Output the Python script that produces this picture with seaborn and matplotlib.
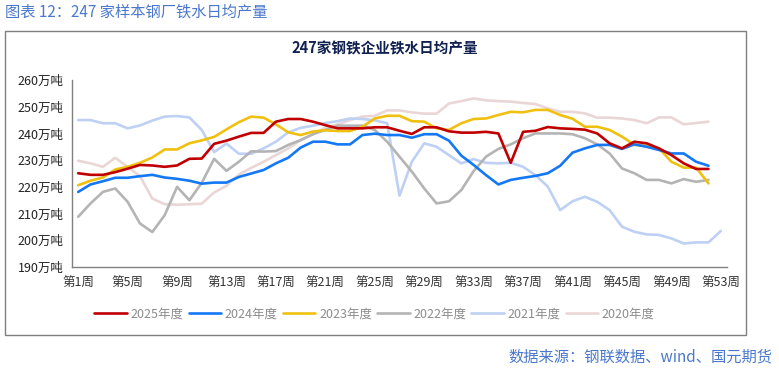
"""
247家钢铁企业铁水日均产量 —— 周度季节性折线图
"""
import matplotlib
import matplotlib.pyplot as plt
import numpy as np
import seaborn as sns
from matplotlib.patches import Rectangle
from matplotlib.ticker import FixedLocator, FuncFormatter

matplotlib.use("Agg")

# 数据（万吨），按周
y2025 = [225.1, 224.5, 224.5, 225.5, 226.8, 228.2, 228.0, 227.5, 228.0, 230.5,
         230.6, 236.1, 237.3, 238.8, 240.2, 240.2, 244.4, 245.4, 245.4, 244.4,
         243.1, 241.9, 241.9, 241.9, 242.3, 242.3, 241.0, 239.8, 242.3, 242.3,
         240.8, 240.3, 240.3, 240.6, 240.0, 229.0, 240.6, 241.0, 242.4, 241.9,
         241.7, 241.4, 240.0, 236.3, 234.4, 236.9, 236.3, 234.4, 231.9, 228.8,
         226.7, 226.7]
y2024 = [218.1, 220.9, 222.1, 223.4, 223.4, 224.0, 224.5, 223.5, 223.0, 222.3,
         221.2, 221.6, 221.6, 223.7, 225.0, 226.3, 228.8, 230.9, 234.7, 236.9,
         236.9, 235.9, 235.9, 239.4, 239.9, 239.4, 239.4, 238.4, 239.7, 239.7,
         237.3, 231.7, 228.2, 224.4, 220.9, 222.6, 223.4, 224.1, 225.1, 227.9,
         232.8, 234.4, 235.7, 235.7, 234.2, 235.9, 235.0, 233.8, 232.5, 232.5,
         229.4, 227.9]
y2023 = [220.6, 222.3, 223.5, 226.5, 227.5, 229.0, 231.0, 234.0, 234.0, 236.3,
         237.4, 238.7, 241.5, 244.2, 246.3, 245.9, 243.4, 240.4, 239.4, 240.7,
         241.2, 240.9, 240.9, 242.5, 245.6, 246.6, 246.6, 244.6, 244.4, 241.9,
         241.3, 243.8, 245.4, 245.6, 246.9, 248.1, 247.9, 248.8, 248.8, 246.9,
         245.5, 242.5, 242.5, 241.3, 238.8, 235.7, 235.4, 234.4, 229.4, 227.2,
         227.2, 221.3]
y2022 = [208.8, 213.8, 218.1, 219.4, 214.4, 206.3, 203.1, 209.4, 220.0, 215.0,
         221.5, 230.5, 226.0, 229.4, 233.3, 233.2, 233.4, 235.7, 237.5, 239.7,
         241.3, 242.9, 242.9, 242.9, 241.3, 236.9, 231.3, 225.7, 219.4, 213.8,
         214.6, 218.8, 225.9, 231.3, 234.2, 235.9, 238.2, 240.0, 240.0, 240.0,
         239.7, 238.2, 235.9, 232.5, 226.9, 225.1, 222.6, 222.6, 221.3, 222.9,
         221.9, 222.6]
y2021 = [245.0, 245.0, 243.8, 243.8, 241.9, 243.0, 244.8, 246.3, 246.5, 246.0,
         241.3, 233.0, 236.2, 232.4, 232.4, 234.4, 236.9, 240.4, 242.1, 242.9,
         243.9, 244.6, 245.6, 245.4, 244.9, 243.8, 216.7, 229.4, 236.3, 235.0,
         231.9, 228.8, 230.4, 229.0, 228.8, 229.0, 227.5, 224.4, 220.1, 211.3,
         214.6, 216.3, 214.4, 211.3, 205.1, 203.2, 202.2, 202.0, 200.7, 198.8,
         199.2, 199.2, 203.5]
y2020 = [229.8, 228.8, 227.5, 230.9, 227.5, 224.0, 215.6, 213.5, 213.3, 213.5,
         213.7, 217.9, 220.4, 224.6, 227.1, 229.4, 231.9, 234.4, 237.5, 239.7,
         242.2, 243.4, 245.0, 246.3, 246.6, 248.6, 248.6, 247.9, 247.4, 247.4,
         251.2, 252.1, 253.1, 252.4, 252.1, 251.9, 251.4, 251.0, 249.4, 248.1,
         248.1, 247.5, 245.9, 245.9, 245.6, 245.0, 243.8, 246.0, 246.0, 243.4,
         243.9, 244.4]

series = [
    ("2025年度", y2025, "#C00000"),
    ("2024年度", y2024, "#1478F5"),
    ("2023年度", y2023, "#F0C010"),
    ("2022年度", y2022, "#B4B4B4"),
    ("2021年度", y2021, "#BED0F4"),
    ("2020年度", y2020, "#EAD6D6"),
]
week_labels = [f"第{w}周" for w in range(1, 54, 4)]
y_ticks = list(range(190, 261, 10))

sns.set_style("white")
plt.rcParams["font.family"] = ["Noto Sans CJK SC", "DejaVu Sans"]

fig = plt.figure(figsize=(7.79, 3.69), dpi=100)
ax = fig.add_axes([72 / 779, 1 - 267 / 369, (727 - 72) / 779, 187 / 369])

# 先画旧年份，2025 在最上层
handles = {}
for name, vals, color in reversed(series):
    weeks = np.arange(1, len(vals) + 1)
    sns.lineplot(x=weeks, y=vals, color=color, linewidth=1.9, ax=ax, label=name)
    handles[name] = ax.get_lines()[-1]

ax.set_xlim(0.5, 53.5)
ax.set_ylim(190, 260)
ax.xaxis.set_major_locator(FixedLocator(list(range(1, 54, 4))))
ax.set_xticklabels(week_labels)
ax.xaxis.set_minor_locator(FixedLocator(np.arange(0.5, 54, 1)))
ax.tick_params(axis="x", which="major", length=0, pad=7, labelsize=9, labelcolor="#333333")
ax.tick_params(axis="x", which="minor", length=4, color="#808080", direction="out")
ax.set_yticks(y_ticks)
ax.yaxis.set_major_formatter(FuncFormatter(lambda v, _: f"{int(v)}万吨"))
ax.tick_params(axis="y", length=4, color="#808080", direction="out", labelsize=9,
               labelcolor="#222222", pad=2)
for side in ("top", "right"):
    ax.spines[side].set_visible(False)
for side in ("left", "bottom"):
    ax.spines[side].set_color("#808080")
    ax.spines[side].set_linewidth(1)
ax.set_xlabel("")
ax.set_ylabel("")

ax.legend([handles[n] for n, _, _ in series], [n for n, _, _ in series],
          loc="center", bbox_to_anchor=(0.481, 0.149), bbox_transform=fig.transFigure,
          ncol=6, frameon=False, fontsize=9, labelcolor="#8C8C8C",
          handlelength=2.6, handletextpad=0.3, columnspacing=0.4)

# 外框
fig.patches.append(Rectangle((5 / 779, 1 - 335 / 369), 741 / 779, 304 / 369,
                             transform=fig.transFigure, fill=False,
                             edgecolor="#7F7F7F", linewidth=1))

fig.text(5 / 779, 1 - 12 / 369, "图表 12：247 家样本钢厂铁水日均产量",
         fontsize=11, color="#4A78CC", va="center", ha="left")
fig.text(385 / 779, 1 - 48 / 369, "247家钢铁企业铁水日均产量",
         fontsize=10.5, fontweight="bold", color="#102050", va="center", ha="center")
fig.text(772 / 779, 1 - 357 / 369, "数据来源：钢联数据、wind、国元期货",
         fontsize=11, color="#4A78CC", va="center", ha="right")

fig.savefig("out.png", dpi=100)
plt.close(fig)
